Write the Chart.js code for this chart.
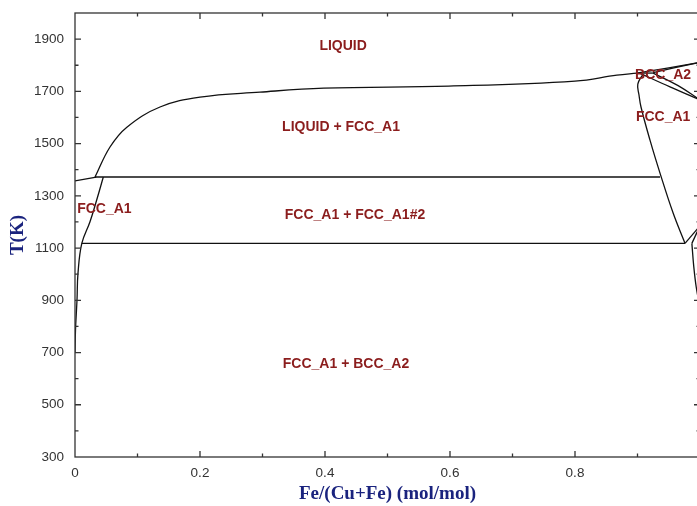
<!DOCTYPE html>
<html>
<head>
<meta charset="utf-8">
<script src="https://cdn.jsdelivr.net/npm/chart.js@4/dist/chart.umd.min.js"></script>
<style>
  body { margin: 0; overflow: hidden; background: #fff; }
  #wrap { width: 700px; height: 506px; }
</style>
</head>
<body>
<div id="wrap"><canvas id="phaseChart"></canvas></div>
<script>
// tick labels
var xTicks = [0, 0.2, 0.4, 0.6, 0.8];
var yTicks = [300, 500, 700, 900, 1100, 1300, 1500, 1700, 1900];

// phase boundaries: Fe/(Cu+Fe) and T(K)
var cuLiqX = [0, 0.034];
var cuLiqT = [1357, 1372];
var liquidusX = [0.032, 0.056, 0.083, 0.136, 0.2, 0.296, 0.398, 0.598, 0.8, 0.867, 0.899];
var liquidusT = [1372, 1487, 1563, 1640, 1678, 1697, 1712, 1720, 1739, 1762, 1770];
var bccLiqX = [0.899, 0.95, 1.0];
var bccLiqT = [1770, 1790, 1811];
var bccSolX = [0.925, 0.96, 1.0];
var bccSolT = [1772, 1791, 1811];
var perit2X = [0.899, 0.925];
var perit2T = [1770, 1770];
var deltaGamma1X = [0.905, 0.952, 1.0];
var deltaGamma1T = [1768, 1717, 1667];
var deltaGamma2X = [0.925, 0.965, 1.0];
var deltaGamma2T = [1770, 1722, 1667];
var gammaX = [0.909, 0.9005, 0.9024, 0.9056, 0.92, 0.936, 0.957, 0.976];
var gammaT = [1766, 1728, 1686, 1640, 1513, 1387, 1234, 1118];
var peritX = [0.032, 0.936];
var peritT = [1372, 1372];
var eutectX = [0.0109, 0.976];
var eutectT = [1118, 1118];
var cuSolvX = [0.0453, 0.0347, 0.024, 0.0109, 0.0048, 0.0032, 0.0008, 0];
var cuSolvT = [1372, 1284, 1201, 1118, 1004, 901, 786, 702];
var alphaGammaX = [0.976, 1.0];
var alphaGammaT = [1118, 1185];
var alphaUpX = [0.987, 1.0];
var alphaUpT = [1118, 1185];
var alphaSolvX = [0.987, 0.990, 0.994, 1.0];
var alphaSolvT = [1118, 1030, 950, 870];

// region names
var regionNames = ["LIQUID", "LIQUID + FCC_A1", "FCC_A1 + FCC_A1#2", "FCC_A1", "FCC_A1 + BCC_A2", "BCC_A2", "FCC_A1"];
var regionX = [0.429, 0.4256, 0.448, 0.047, 0.4336, 0.941, 0.941];
var regionT = [1873, 1563, 1226, 1249, 656, 1762, 1601];

function pts(xs, ts) {
  var out = [];
  for (var i = 0; i < xs.length; i++) out.push({x: xs[i], y: ts[i]});
  return out;
}

function boundary(xs, ts, curved) {
  return {
    data: pts(xs, ts),
    showLine: true,
    borderColor: "#111",
    borderWidth: 1.3,
    pointRadius: 0,
    tension: curved ? 0.4 : 0,
  };
}

// inward ticks on all four sides + frame
var framePlugin = {
  id: "frame",
  afterDraw: function(chart) {
    var ctx = chart.ctx, a = chart.chartArea;
    var xs = chart.scales.x, ys = chart.scales.y;
    ctx.save();
    ctx.strokeStyle = "#333";
    ctx.lineWidth = 1.3;
    ctx.strokeRect(a.left, a.top, a.right - a.left, a.bottom - a.top);
    ctx.beginPath();
    for (var i = 1; i < 10; i++) {
      var px = xs.getPixelForValue(i / 10);
      var len = i % 2 == 0 ? 6 : 3.5;
      ctx.moveTo(px, a.bottom); ctx.lineTo(px, a.bottom - len);
      ctx.moveTo(px, a.top); ctx.lineTo(px, a.top + len);
    }
    for (var t = 400; t < 2000; t += 100) {
      var py = ys.getPixelForValue(t);
      var l2 = (t - 300) % 200 == 0 ? 6 : 3.5;
      ctx.moveTo(a.left, py); ctx.lineTo(a.left + l2, py);
      ctx.moveTo(a.right, py); ctx.lineTo(a.right - l2, py);
    }
    ctx.stroke();

    ctx.fillStyle = "#8b1d1d";
    ctx.font = "bold 14px 'Liberation Sans', Arial, sans-serif";
    ctx.textAlign = "center";
    ctx.textBaseline = "middle";
    for (var k = 0; k < regionNames.length; k++) {
      ctx.fillText(regionNames[k], xs.getPixelForValue(regionX[k]), ys.getPixelForValue(regionT[k]));
    }
    ctx.restore();
  }
};

var ctxP = document.getElementById("phaseChart").getContext("2d");
var phaseChart = new Chart(ctxP, {
  type: "scatter",
  data: {
    datasets: [
      boundary(cuLiqX, cuLiqT, false),
      boundary(liquidusX, liquidusT, true),
      boundary(bccLiqX, bccLiqT, false),
      boundary(bccSolX, bccSolT, false),
      boundary(perit2X, perit2T, false),
      boundary(deltaGamma1X, deltaGamma1T, true),
      boundary(deltaGamma2X, deltaGamma2T, true),
      boundary(gammaX, gammaT, true),
      boundary(peritX, peritT, false),
      boundary(eutectX, eutectT, false),
      boundary(cuSolvX, cuSolvT, true),
      boundary(alphaGammaX, alphaGammaT, false),
      boundary(alphaUpX, alphaUpT, false),
      boundary(alphaSolvX, alphaSolvT, true),
    ],
  },
  options: {
    responsive: true,
    maintainAspectRatio: false,
    animation: false,
    layout: { padding: { top: 13, right: 0, left: 0, bottom: 0 } },
    plugins: { legend: { display: false }, tooltip: { enabled: false } },
    scales: {
      x: {
        type: "linear",
        min: 0,
        max: 1,
        afterBuildTicks: function(s) { s.ticks = xTicks.map(function(v) { return {value: v}; }); },
        afterFit: function(s) { s.height = 49; },
        grid: { display: false, drawTicks: false },
        border: { display: false },
        ticks: {
          padding: 8,
          color: "#333",
          font: { family: "'Liberation Sans', Arial, sans-serif", size: 13.5 },
          maxRotation: 0,
          callback: function(v) { return String(v); },
        },
        title: {
          display: true,
          text: "Fe/(Cu+Fe) (mol/mol)",
          color: "#1a237e",
          font: { family: "'Liberation Serif', 'Times New Roman', serif", size: 19, weight: "bold", lineHeight: 1.2 },
          padding: { top: 0, bottom: 1 },
        },
      },
      y: {
        type: "linear",
        min: 300,
        max: 2000,
        afterBuildTicks: function(s) { s.ticks = yTicks.map(function(v) { return {value: v}; }); },
        afterFit: function(s) {
          s.width = 75;
          // labels are not at the ends, no extra room needed
          s.paddingTop = 0;
          s.paddingBottom = 0;
        },
        grid: { display: false, drawTicks: false },
        border: { display: false },
        ticks: {
          padding: 11,
          color: "#333",
          font: { family: "'Liberation Sans', Arial, sans-serif", size: 13.5 },
          callback: function(v) { return String(v); },
        },
        title: {
          display: true,
          text: "T(K)",
          color: "#1a237e",
          font: { family: "'Liberation Serif', 'Times New Roman', serif", size: 19, weight: "bold", lineHeight: 1.2 },
          padding: { top: 7, bottom: 0 },
        },
      },
    },
  },
  plugins: [framePlugin],
});
</script>
</body>
</html>
